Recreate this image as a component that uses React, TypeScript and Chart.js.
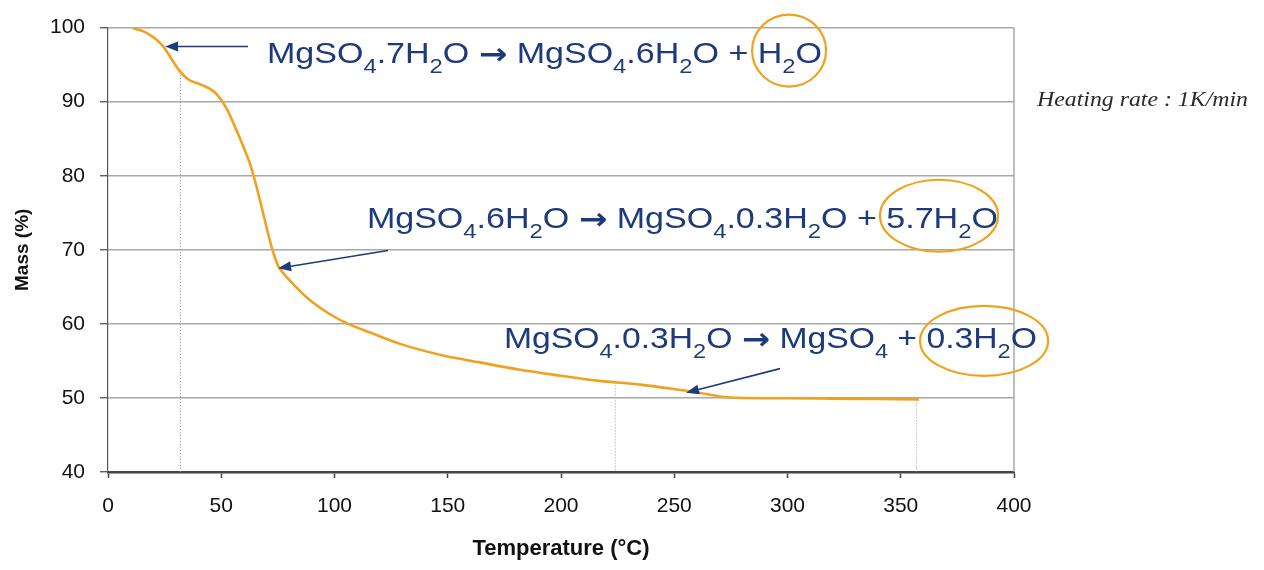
import React, { useEffect, useRef } from "react";
import { Chart, registerables } from "chart.js";

Chart.register(...registerables);

// ---- data (Temperature °C vs Mass %) ----
const temperatures = [11, 17, 24, 31, 35, 41, 47, 52.5, 55.5, 59, 62.7, 65, 67, 69, 71, 73, 75, 77.5, 80.4, 88, 98, 106, 116, 129, 147, 164, 182, 200, 217, 235, 252, 261, 270, 280, 300, 320, 340, 358];
const massPercent = [99.9, 99.3, 97.6, 94.4, 93.1, 92.3, 91.3, 89.0, 87.0, 84.5, 81.6, 79.2, 76.8, 74.3, 71.8, 69.6, 67.9, 66.8, 65.8, 63.5, 61.3, 60.0, 58.8, 57.3, 55.8, 54.8, 53.8, 53.0, 52.3, 51.8, 51.1, 50.7, 50.2, 50.0, 49.95, 49.9, 49.85, 49.8];

// dotted drop lines (temperature, mass at top)
const dropTemps = [32, 224, 357];
const dropTops = [94.0, 52.1, 49.8];

// axes
const xMin = 0, xMax = 400, xStep = 50;
const yMin = 40, yMax = 100, yStep = 10;

// annotation texts ("_" marks a subscript character)
const reactionTexts = [
  "MgSO_4.7H_2O → MgSO_4.6H_2O + H_2O",
  "MgSO_4.6H_2O → MgSO_4.0.3H_2O + 5.7H_2O",
  "MgSO_4.0.3H_2O → MgSO_4 + 0.3H_2O",
];
const heatingRateText = "Heating rate : 1K/min";

// annotation layout (in data units of the axes)
const reactionLayout = [
  { t: 70.2, m: 95.17, width: 555 },
  { t: 114.3, m: 73.0, width: 631 },
  { t: 174.8, m: 56.8, width: 533 },
];
const ellipseLayout = [
  { t: 300.7, m: 96.9, rx: 37, ry: 36 },
  { t: 366.9, m: 74.6, rx: 59, ry: 36 },
  { t: 386.8, m: 57.7, rx: 64, ry: 35 },
];
const arrowLayout = [
  { t0: 61.8, m0: 97.45, t1: 25.2, m1: 97.45 },
  { t0: 123.6, m0: 69.9, t1: 75.1, m1: 67.5 },
  { t0: 296.7, m0: 53.96, t1: 255.2, m1: 50.7 },
];

const NAVY = "#1d3a7c";
const ORANGE = "#f0a21e";
const SANS = "'Liberation Sans', Arial, Helvetica, sans-serif";

type Seg = { t: string; kind: "main" | "sub" | "arrow" };

function parseFormula(s: string): Seg[] {
  const segs: Seg[] = [];
  let buf = "";
  const flush = () => {
    if (buf) segs.push({ t: buf, kind: "main" });
    buf = "";
  };
  for (let i = 0; i < s.length; i++) {
    if (s[i] === "_" && i + 1 < s.length) {
      flush();
      segs.push({ t: s[i + 1], kind: "sub" });
      i++;
    } else if (s[i] === "→") {
      flush();
      segs.push({ t: "→", kind: "arrow" });
    } else buf += s[i];
  }
  flush();
  return segs;
}

const fontFor = (k: Seg["kind"]) =>
  k === "sub" ? `21px ${SANS}` : k === "arrow" ? `bold 30px 'DejaVu Sans', sans-serif` : `30px ${SANS}`;

function drawFormula(ctx: CanvasRenderingContext2D, s: string, x0: number, yb: number, targetW: number) {
  const segs = parseFormula(s);
  let w = 0;
  const widths: number[] = [];
  for (const sg of segs) {
    ctx.font = fontFor(sg.kind);
    const sw = ctx.measureText(sg.t).width;
    widths.push(sw);
    w += sw;
  }
  const sx = targetW / w;
  ctx.save();
  ctx.translate(x0, yb);
  ctx.scale(sx, 1);
  ctx.fillStyle = NAVY;
  ctx.textBaseline = "alphabetic";
  ctx.textAlign = "left";
  let cx = 0;
  segs.forEach((sg, i) => {
    ctx.font = fontFor(sg.kind);
    ctx.fillText(sg.t, cx, sg.kind === "sub" ? 10 : sg.kind === "arrow" ? 1 : 0);
    cx += widths[i];
  });
  ctx.restore();
}

const annotationPlugin = {
  id: "tgaAnnotations",
  afterDatasetsDraw(chart: any) {
    const { ctx, chartArea, scales } = chart;
    const x = scales.x;
    const y = scales.y;
    ctx.save();
    // right frame line
    ctx.strokeStyle = "#a8a8a8";
    ctx.lineWidth = 1.5;
    ctx.beginPath();
    ctx.moveTo(chartArea.right, chartArea.top);
    ctx.lineTo(chartArea.right, chartArea.bottom);
    ctx.stroke();

    // arrows
    ctx.strokeStyle = NAVY;
    ctx.fillStyle = NAVY;
    ctx.lineWidth = 1.6;
    for (const a of arrowLayout) {
      const x0 = x.getPixelForValue(a.t0), y0 = y.getPixelForValue(a.m0);
      const x1 = x.getPixelForValue(a.t1), y1 = y.getPixelForValue(a.m1);
      const ang = Math.atan2(y1 - y0, x1 - x0);
      const hl = 13, hw = 5;
      const bx = x1 - hl * Math.cos(ang), by = y1 - hl * Math.sin(ang);
      ctx.beginPath();
      ctx.moveTo(x0, y0);
      ctx.lineTo(bx, by);
      ctx.stroke();
      ctx.beginPath();
      ctx.moveTo(x1, y1);
      ctx.lineTo(bx + hw * Math.sin(ang), by - hw * Math.cos(ang));
      ctx.lineTo(bx - hw * Math.sin(ang), by + hw * Math.cos(ang));
      ctx.closePath();
      ctx.fill();
    }

    // reaction formulas
    reactionTexts.forEach((s, i) => {
      const L = reactionLayout[i];
      drawFormula(ctx, s, x.getPixelForValue(L.t), y.getPixelForValue(L.m), L.width);
    });

    // ellipses
    ctx.strokeStyle = ORANGE;
    ctx.lineWidth = 2.2;
    for (const e of ellipseLayout) {
      ctx.beginPath();
      ctx.ellipse(x.getPixelForValue(e.t), y.getPixelForValue(e.m), e.rx, e.ry, 0, 0, Math.PI * 2);
      ctx.stroke();
    }

    // heating rate note
    ctx.font = `italic 21px 'Liberation Serif', 'Times New Roman', serif`;
    ctx.fillStyle = "#2a2a2a";
    ctx.textAlign = "left";
    ctx.textBaseline = "alphabetic";
    const nw = ctx.measureText(heatingRateText).width;
    ctx.save();
    ctx.translate(chartArea.right + 23, y.getPixelForValue(89.4));
    ctx.scale(211 / nw, 1);
    ctx.fillText(heatingRateText, 0, 0);
    ctx.restore();

    ctx.restore();
  },
};

export default function App() {
  const canvasRef = useRef<HTMLCanvasElement | null>(null);

  useEffect(() => {
    if (!canvasRef.current) return;
    const curve = temperatures.map((t, i) => ({ x: t, y: massPercent[i] }));
    const drops = dropTemps.map((t, i) => ({
      type: "line" as const,
      data: [
        { x: t, y: dropTops[i] },
        { x: t, y: yMin },
      ],
      borderColor: "#9a9a9a",
      borderWidth: 1,
      borderDash: [1, 2],
      pointRadius: 0,
      order: 2,
    }));

    const chart = new Chart(canvasRef.current, {
      type: "line",
      data: {
        datasets: [
          {
            data: curve,
            borderColor: ORANGE,
            borderWidth: 2.6,
            pointRadius: 0,
            cubicInterpolationMode: "monotone",
            order: 1,
          },
          ...drops,
        ] as any,
      },
      options: {
        animation: false,
        responsive: false,
        layout: { padding: { left: 0, right: 250, top: 25, bottom: 0 } },
        plugins: { legend: { display: false }, tooltip: { enabled: false } },
        scales: {
          x: {
            type: "linear",
            min: xMin,
            max: xMax,
            afterFit: (s: any) => { s.height = 98; },
            ticks: { stepSize: xStep, color: "#111", font: { family: SANS, size: 21 }, padding: 16, maxRotation: 0 },
            grid: { drawOnChartArea: false, drawTicks: true, tickLength: 6, tickColor: "#444", tickWidth: 1.5 },
            border: { color: "#444", width: 2.5 },
            title: {
              display: true,
              text: "Temperature (°C)",
              color: "#111",
              font: { family: SANS, size: 22, weight: "bold" },
              padding: { top: 0, bottom: 8 },
            },
          },
          y: {
            type: "linear",
            min: yMin,
            max: yMax,
            afterFit: (s: any) => { s.width = 108; },
            ticks: { stepSize: yStep, color: "#111", font: { family: SANS, size: 21 }, padding: 15 },
            grid: {
              color: (c: any) => (c.tick && c.tick.value === yMin ? "rgba(0,0,0,0)" : "#a8a8a8"),
              lineWidth: 1.5,
              tickLength: 8,
              tickColor: "#444",
              tickWidth: 1.2,
            },
            border: { color: "#555", width: 1.2 },
            title: {
              display: true,
              text: "Mass (%)",
              color: "#111",
              font: { family: SANS, size: 19, weight: "bold" },
              padding: { top: 11, bottom: 0 },
            },
          },
        },
      },
      plugins: [annotationPlugin],
    });
    return () => chart.destroy();
  }, []);

  return (
    <div style={{ position: "fixed", left: 0, top: 0, width: 1264, height: 570, background: "#fff" }}>
      <canvas ref={canvasRef} width={1264} height={570} style={{ display: "block" }} />
    </div>
  );
}
